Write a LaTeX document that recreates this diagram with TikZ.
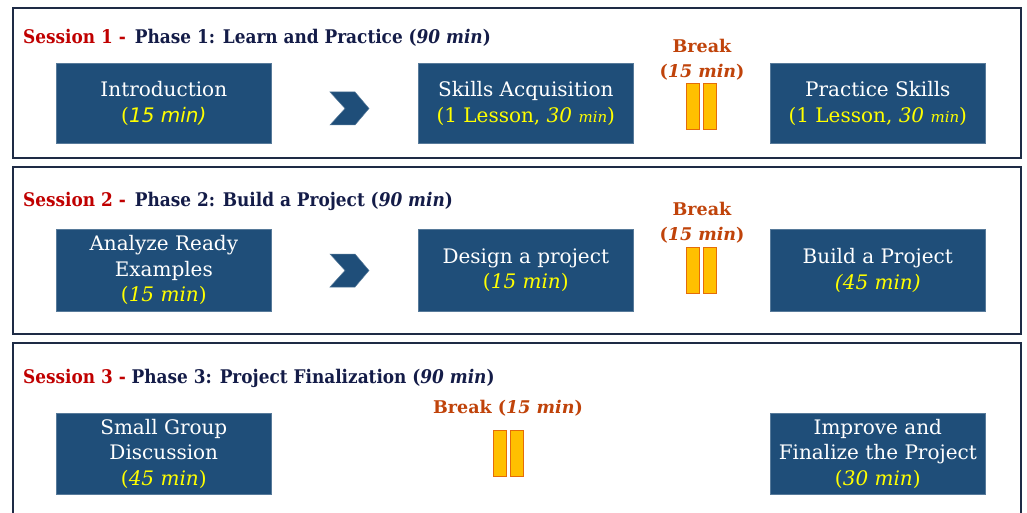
\documentclass[tikz,border=0pt]{standalone}
\usepackage{fontspec}
\setmainfont{DejaVu Serif}
\newfontfamily\sansit{DejaVu Sans}
\newfontfamily\headfont[FakeStretch=0.9]{DejaVu Serif}
\definecolor{boxblue}{HTML}{1F4E79}
\definecolor{navy}{HTML}{141C48}
\definecolor{sesred}{HTML}{C00000}
\definecolor{brk}{HTML}{C0430A}
\definecolor{bargold}{HTML}{FFC000}
\definecolor{barline}{HTML}{E46C0A}
\definecolor{panelline}{HTML}{1E2B45}
\definecolor{dur}{HTML}{FFFF00}
\tikzset{
  panel/.style={draw=panelline, line width=1.8pt},
  task/.style={fill=boxblue, draw=boxblue!75!white, line width=0.6pt,
    text=white, align=center, minimum width=215pt, inner sep=0pt,
    font=\fontsize{20}{25.5}\selectfont, anchor=north west},
  title/.style={anchor=west, inner sep=0pt, text=navy,
    font=\headfont\fontsize{18.8}{22}\selectfont\bfseries},
  brklabel/.style={inner sep=0pt, text=brk, font=\fontsize{17.5}{22}\selectfont\bfseries},
  pausebar/.style={fill=bargold, draw=barline, line width=0.8pt, inner sep=0pt,
    minimum width=13pt, anchor=north west},
  chevron/.style={fill=boxblue, draw=boxblue!75!white, line width=0.5pt}
}
\newcommand{\dur}[1]{\textcolor{dur}{(\textit{#1})}}
\newcommand{\smallmin}{{\fontsize{15}{25}\selectfont min}}
\begin{document}
\begin{tikzpicture}[x=1pt, y=-1pt]
\useasboundingbox (0,0) rectangle (1027,513);
\clip (0,0) rectangle (1027,513);
\fill[white] (0,0) rectangle (1027,513);

% session frames
\draw[panel] (13,8) rectangle (1021,158);
\draw[panel] (13,167) rectangle (1021,334);
\draw[panel] (13,343) rectangle (1021,530);

% ---------- Session 1 ----------
\node[title] (t1) at (23,38) {\textcolor{sesred}{Session 1 -}\, Phase 1: Learn and Practice (\textit{90 min})};
\node[task, minimum height=80pt] (intro) at (56,63)
  {Introduction\\\textcolor{dur}{(\sansit\itshape 15 min)}};
\node[task, minimum height=80pt] (skills) at (418,63)
  {Skills Acquisition\\\textcolor{dur}{(1 Lesson, \textit{30 \smallmin})}};
\node[task, minimum height=80pt] (practice) at (770,63)
  {Practice Skills\\\textcolor{dur}{(1 Lesson, \textit{30 \smallmin})}};
\draw[chevron] (330,92) -- (355,92) -- (369,108.5) -- (355,125) -- (330,125) -- (345,108.5) -- cycle;
\node[brklabel] (b1a) at (702,46) {Break};
\node[brklabel] (b1b) at (702,72) {(\textit{15 min})};
\node[pausebar, minimum height=46pt] (b1l) at (686,83) {};
\node[pausebar, minimum height=46pt] (b1r) at (703,83) {};

% ---------- Session 2 ----------
\node[title] (t2) at (23,201) {\textcolor{sesred}{Session 2 -}\, Phase 2: Build a Project (\textit{90 min})};
\node[task, minimum height=82pt] (analyze) at (56,229)
  {Analyze Ready\\Examples\\\dur{15 min}};
\node[task, minimum height=82pt] (design) at (418,229)
  {Design a project\\\dur{15 min}};
\node[task, minimum height=82pt] (build) at (770,229)
  {Build a Project\\\textcolor{dur}{\textit{(45 min)}}};
\draw[chevron] (330,254) -- (355,254) -- (369,270.5) -- (355,287) -- (330,287) -- (345,270.5) -- cycle;
\node[brklabel] (b2a) at (702,209) {Break};
\node[brklabel] (b2b) at (702,235) {(\textit{15 min})};
\node[pausebar, minimum height=46pt] (b2l) at (686,247) {};
\node[pausebar, minimum height=46pt] (b2r) at (703,247) {};

% ---------- Session 3 ----------
\node[title] (t3) at (23,378) {\textcolor{sesred}{Session 3 -} Phase 3: Project Finalization (\textit{90 min})};
\node[task, minimum height=81pt] (discuss) at (56,413)
  {Small Group\\Discussion\\\dur{45 min}};
\node[task, minimum height=81pt] (improve) at (770,413)
  {Improve and\\Finalize the Project\\\dur{30 min}};
\node[brklabel] (b3) at (508,408) {Break (\textit{15 min})};
\node[pausebar, minimum height=46pt] (b3l) at (493,430) {};
\node[pausebar, minimum height=46pt] (b3r) at (510,430) {};
\end{tikzpicture}
\end{document}
